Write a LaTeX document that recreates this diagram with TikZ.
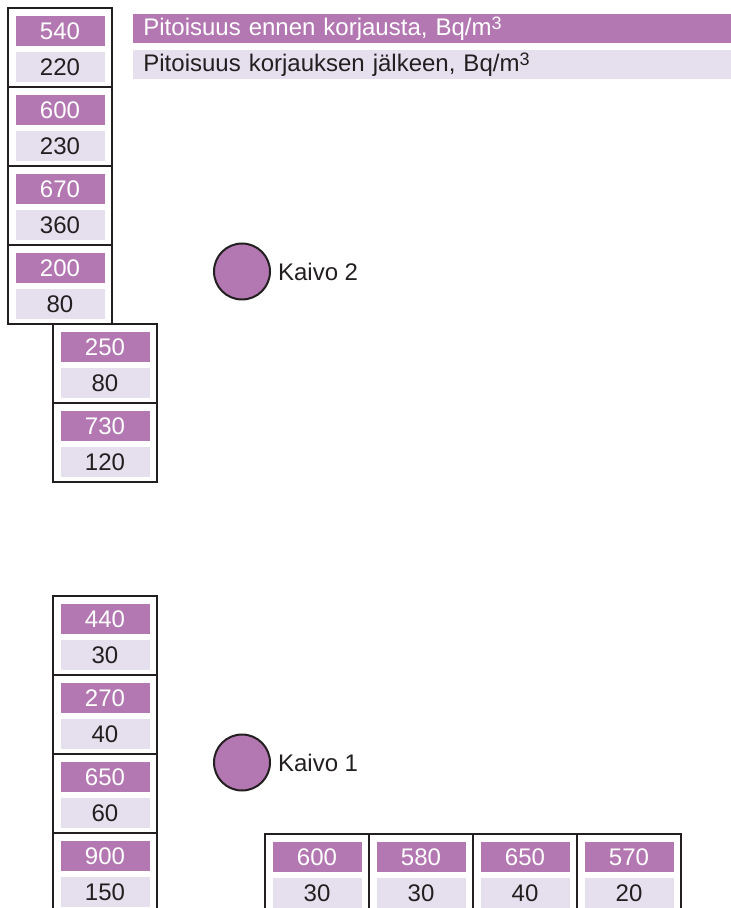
\documentclass[tikz,border=0pt]{standalone}
\usepackage{fontspec}
\setmainfont{Liberation Sans}
\usetikzlibrary{positioning}
\definecolor{violetti}{RGB}{179,120,178}
\definecolor{vaalea}{RGB}{230,224,238}
\definecolor{viiva}{RGB}{35,31,32}
\newcommand{\kuutio}{\raisebox{0.45ex}{\fontsize{9}{9}\selectfont 3}}

\begin{document}
\begin{tikzpicture}[x=0.5pt,y=-0.5pt,font=\fontsize{12}{14}\selectfont,
  box/.style={draw=viiva,line width=1pt,minimum width=52pt,minimum height=39.5pt,inner sep=0pt,outer sep=0pt},
  ennen/.style={fill=violetti,text=white,minimum width=44.5pt,minimum height=15pt,inner sep=0pt},
  jalkeen/.style={fill=vaalea,text=viiva,minimum width=44.5pt,minimum height=15pt,inner sep=0pt},
  selite/.style={anchor=north west,minimum height=14.5pt,text width=293pt,inner xsep=5pt,align=left},
  kaivo/.style={circle,draw=viiva,line width=1pt,fill=violetti,minimum size=28pt,inner sep=0pt}]
\useasboundingbox (0,0) rectangle (731,908);
\node[ennen,selite] (L1) at (133,14) {Pitoisuus ennen korjausta, Bq/m\kuutio};
\node[jalkeen,selite] (L2) at (133,50) {Pitoisuus korjauksen j\"alkeen, Bq/m\kuutio};
\node[box] (A1) [anchor=north west] at (8,8) {};
\node[box] (A2) [below=0pt of A1] {};
\node[box] (A3) [below=0pt of A2] {};
\node[box] (A4) [below=0pt of A3] {};
\node[box] (B1) [anchor=north west] at (53,324) {};
\node[box] (B2) [below=0pt of B1] {};
\node[box] (C1) [anchor=north west] at (53,596) {};
\node[box] (C2) [below=0pt of C1] {};
\node[box] (C3) [below=0pt of C2] {};
\node[box] (C4) [below=0pt of C3] {};
\node[box] (D1) [anchor=north west] at (265,834) {};
\node[box] (D2) [right=0pt of D1] {};
\node[box] (D3) [right=0pt of D2] {};
\node[box] (D4) [right=0pt of D3] {};
\foreach \b/\e/\j in {A1/540/220,A2/600/230,A3/670/360,A4/200/80,B1/250/80,B2/730/120,
  C1/440/30,C2/270/40,C3/650/60,C4/900/150,D1/600/30,D2/580/30,D3/650/40,D4/570/20}{
  \node[ennen] (\b e) at ([yshift=-11.5pt]\b.north) {\e};
  \node[jalkeen] (\b j) at ([yshift=-29.5pt]\b.north) {\j};
}
\node[kaivo] (K2) at (242,271.5) {};
\node (K2t) [right=0pt of K2,text=viiva] {Kaivo 2};
\node[kaivo] (K1) at (242,762.5) {};
\node (K1t) [right=0pt of K1,text=viiva] {Kaivo 1};
\end{tikzpicture}
\end{document}
